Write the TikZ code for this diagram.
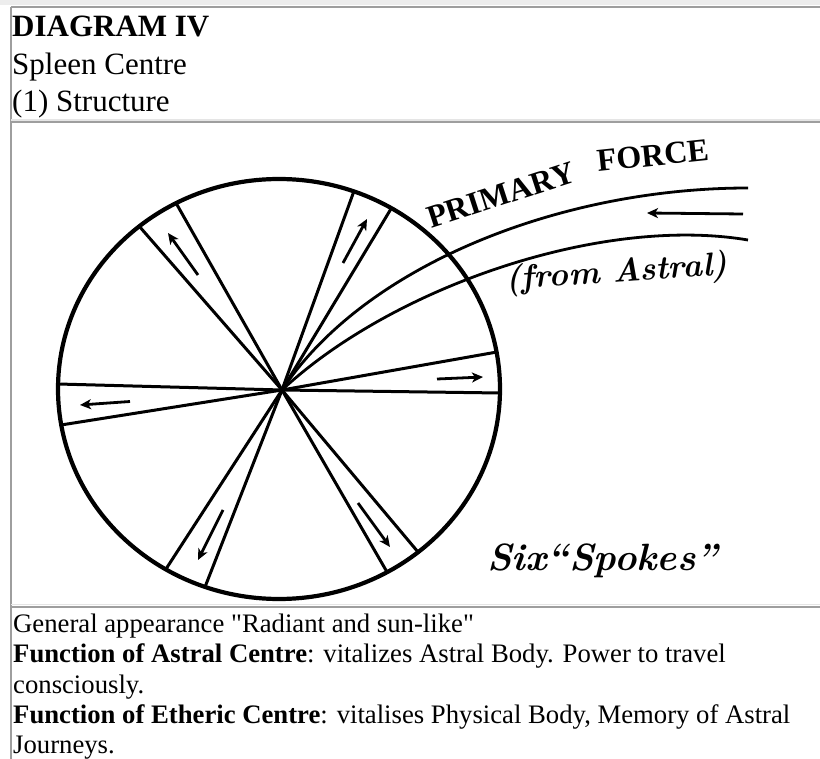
\documentclass[tikz,border=0pt]{standalone}
\usepackage{fontspec}
\newfontfamily\timesfont{Liberation Serif}
\usetikzlibrary{arrows.meta}
\begin{document}
\begin{tikzpicture}[x=1pt,y=-1pt,
  rim/.style={line width=4.2pt},
  spoke/.style={line width=3pt},
  forceline/.style={line width=2.8pt},
  flow/.style={line width=2.8pt,-{Stealth[length=11pt,width=10pt,inset=3pt]}},
  border/.style={draw=black!38,line width=1.8pt},
  lightborder/.style={draw=black!10,line width=1.5pt},
  hdr/.style={anchor=base west,inner sep=0pt,font=\timesfont\fontsize{31}{37}\selectfont},
  body/.style={anchor=base west,inner sep=0pt,font=\timesfont\fontsize{26.7}{30}\selectfont},
  caps/.style={anchor=base west,inner sep=0pt,font=\timesfont\bfseries\fontsize{32}{32}\selectfont},
  hand/.style={inner sep=0pt,font=\bfseries\itshape\fontsize{33}{33}\selectfont},
]
\useasboundingbox (0,0) rectangle (820,759);
% page frame
\fill[black!7] (0,0) rectangle (820,5);
\draw[border] (11,7) -- (820,7);
\draw[border] (11,7) -- (11,759);
\draw[lightborder] (11,119.8) -- (820,119.8);
\draw[border] (11,122.2) -- (820,122.2);
\draw[lightborder] (11,604.5) -- (820,604.5);
\draw[border] (11,606.8) -- (820,606.8);
% header
\node[hdr] (title) at (12,37) {\bfseries DIAGRAM IV};
\node[hdr] (sub) at (12,75) {Spleen Centre};
\node[hdr] (part) at (12,112) {(1) Structure};
% body text
\node[body] (l1) at (13,632) {General appearance "Radiant and sun-like"};
\node[body] (l2) at (13,662) {\textbf{Function of Astral Centre}: vitalizes Astral Body. Power to travel};
\node[body] (l3) at (13,693) {consciously.};
\node[body] (l4) at (13,723) {\textbf{Function of Etheric Centre}: vitalises Physical Body, Memory of Astral};
\node[body] (l5) at (13,753) {Journeys.};
% diagram
\coordinate (H) at (282,390);
\draw[rim] (279,389) ellipse [x radius=221, y radius=210];
\foreach \p in {(139,226),(176,203),(354,191),(391.5,208),(497,352),(500,393),
                (58,384),(61,425),(166,569),(205,587),(387,572),(418,552)}
  \draw[spoke] (H) -- \p;
% spoke arrows
\draw[flow] (198,275) -- (168,233);
\draw[flow] (343,263) -- (367,219);
\draw[flow] (437,379) -- (483,377);
\draw[flow] (130,401.5) -- (80,405);
\draw[flow] (223,510) -- (198,560);
\draw[flow] (358,503) -- (390,547);
% primary force
\coordinate (U) at (748,188);
\coordinate (L) at (748,240);
\draw[forceline] (H) .. controls (364.5,265.5) and (560,188) .. (U);
\draw[forceline] (H) .. controls (391.5,288) and (600,215) .. (L);
\coordinate (fa) at (743,214);
\coordinate (fb) at (647,213);
\draw[flow] (fa) -- (fb);
% labels
\node[caps,rotate=18] (primary) at (431,229) {PRIMARY};
\node[caps,rotate=6] (force) at (598,172) {FORCE};
\node[hand,anchor=base west,rotate=4] (astral) at (506,290) {(from Astral)};
\node[hand,anchor=base west,font=\bfseries\itshape\fontsize{38}{38}\selectfont] (six) at (487,570) {Six“Spokes”};
\end{tikzpicture}
\end{document}
